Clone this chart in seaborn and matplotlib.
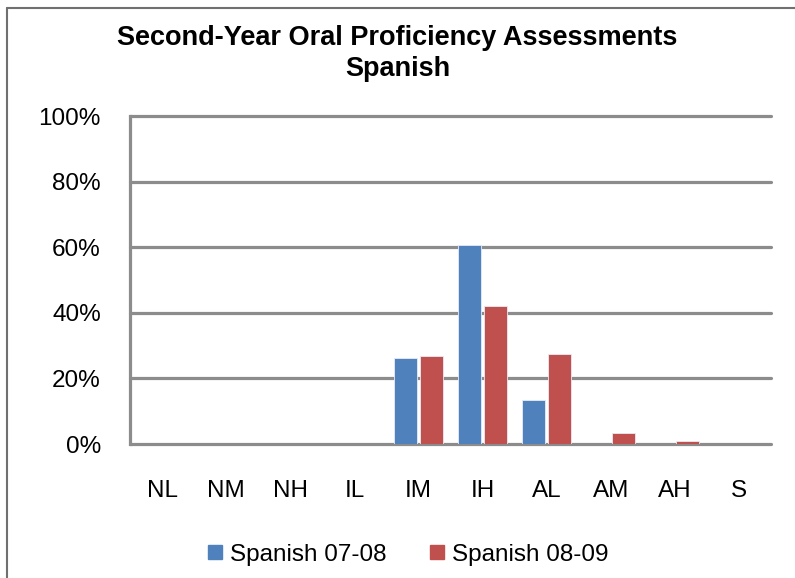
import pandas as pd
import matplotlib.pyplot as plt
import seaborn as sns
from matplotlib.lines import Line2D
from matplotlib.ticker import PercentFormatter

# ── Dados ────────────────────────────────────────────────────────────────────
levels = ["NL", "NM", "NH", "IL", "IM", "IH", "AL", "AM", "AH", "S"]
spanish_0708 = [0, 0, 0, 0, 26.2, 60.6, 13.4, 0, 0, 0]
spanish_0809 = [0, 0, 0, 0, 26.8, 42.1, 27.5, 3.3, 0.8, 0]
series = ["Spanish 07-08", "Spanish 08-09"]

COLORS = {"Spanish 07-08": "#4F81BD", "Spanish 08-09": "#C0504D"}
GRID = "#8C8C8C"

df = pd.DataFrame({
    "level": levels * 2,
    "pct": spanish_0708 + spanish_0809,
    "serie": [series[0]] * len(levels) + [series[1]] * len(levels),
})

sns.set_theme(style="white")
plt.rcParams["font.family"] = ["Liberation Sans", "DejaVu Sans"]
plt.rcParams["text.color"] = "black"

fig = plt.figure(figsize=(7.95, 5.78), dpi=100)
ax = fig.add_axes([0.1635, 0.2318, 0.8065, 0.5675])

sns.barplot(data=df, x="level", y="pct", hue="serie", order=levels,
            hue_order=series, palette=COLORS, saturation=1, width=0.8, gap=0.1,
            edgecolor="#E6ECF4", linewidth=0.6, ax=ax, legend=False, zorder=3)

ax.set_ylim(0, 100)
ax.set_yticks(range(0, 101, 20))
ax.yaxis.set_major_formatter(PercentFormatter(decimals=0))
ax.set_xlim(-0.5, len(levels) - 0.5)
ax.set_xlabel("")
ax.set_ylabel("")

for y in range(0, 101, 20):
    ax.axhline(y, color=GRID, linewidth=2.3, zorder=1, clip_on=False)
for s in ["top", "right", "bottom"]:
    ax.spines[s].set_visible(False)
ax.spines["left"].set_color(GRID)
ax.spines["left"].set_linewidth(2.3)

ax.tick_params(axis="both", length=0, labelsize=17.5, colors="black")
ax.tick_params(axis="y", pad=21)
ax.tick_params(axis="x", pad=26)

fig.text(0.5, 0.907, "Second-Year Oral Proficiency Assessments\nSpanish",
         ha="center", va="center", fontsize=19.5, fontweight="bold",
         color="black", linespacing=1.25)

handles = [Line2D([], [], marker="s", linestyle="", markersize=10,
                  color=COLORS[s]) for s in series]
fig.legend(handles, series, loc="center", bbox_to_anchor=(0.51, 0.04),
           ncol=2, frameon=False, fontsize=17.5, handletextpad=0.1,
           columnspacing=1.6, handlelength=1.0)

# moldura da figura (esquerda e topo)
fig.add_artist(Line2D([0.009, 0.009], [0, 0.986], color="#707070",
                      linewidth=1.5, transform=fig.transFigure))
fig.add_artist(Line2D([0.009, 1], [0.986, 0.986], color="#707070",
                      linewidth=1.5, transform=fig.transFigure))

fig.savefig("out.png", dpi=100)
